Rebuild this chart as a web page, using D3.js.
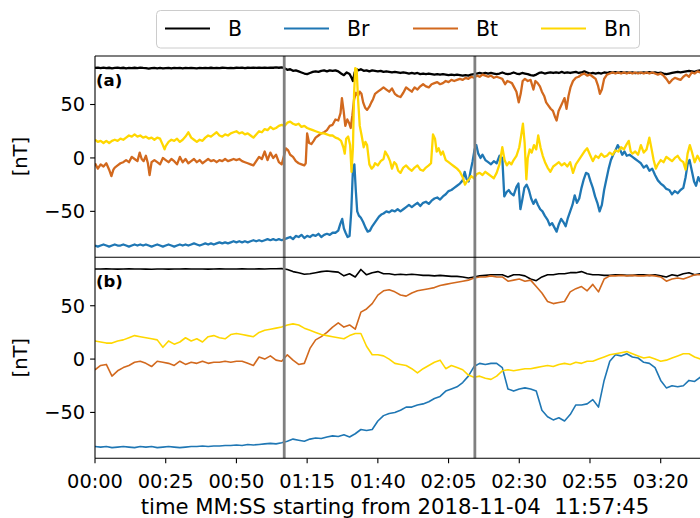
<!DOCTYPE html>
<html><head><meta charset="utf-8">
<script src="https://cdn.jsdelivr.net/npm/d3@7"></script>
<style>body{margin:0;background:#fff} svg{display:block} text{font-family:"DejaVu Sans",sans-serif}</style>
</head><body><svg id="c" width="700" height="518"></svg>
<script>
const seriesNames = ["B","Br","Bt","Bn"];
const seriesColors = ["#000000","#1f77b4","#d2691e","#ffd700"];
const xTickValues = [0,25,50,75,100,125,150,175,200];
const xTickLabels = ["00:00","00:25","00:50","01:15","01:40","02:05","02:30","02:55","03:20"];
const yTickValues = [-50,0,50];
const eventTimes = [66.9,134.3];
const panelLabels = ["(a)","(b)"];
const xLabel = "time MM:SS starting from 2018-11-04  11:57:45";
const yLabel = "[nT]";

// Panel (a): high resolution, flat [time, value] pairs
const aB = [0,84.2,1,84.6,2,84.1,3,84.5,4,84.0,5,84.4,6,83.9,7,84.3,8,84.6,9,84.1,10,84.4,11,83.9,12,84.3,13,84.0,14,84.4,15,84.1,16,84.5,17,84.2,18,84.0,19,83.6,20,84.1,21,84.3,22,83.9,23,84.2,24,83.8,25,84.1,26,84.3,27,83.8,28,84.2,29,84.0,30,84.3,31,83.9,32,84.2,33,84.0,34,84.3,35,84.1,36,83.9,37,84.2,38,84.0,39,84.3,40,84.1,41,84.4,42,84.0,43,84.3,44,84.1,45,84.4,46,84.2,47,84.0,48,84.3,49,84.1,50,84.4,51,84.2,52,84.5,53,84.1,54,84.4,55,84.2,56,84.5,57,84.3,58,84.6,59,84.2,60,84.5,61,84.3,62,84.6,63,84.4,64,84.7,65,84.4,66,84.8,
67,84,68,82.5,69,83,70,81.5,71,82,72,81,73,80,74,79,75,78.5,76,79.5,77,80.5,78,81,79,80.5,80,81.5,81,82,82,81,83,82,84,81.5,85,82,86,81,87,79,88,77.5,89,80,90,78.5,90.7,75,91.2,72,91.8,80,92.5,83,93.2,82,94,83,95,81.5,96,82,97,81,98,82,99,81.5,100,81,101,81.5,102,80.5,103,81,104,80.5,105,80,106,80.5,107,80,108,79.5,109,80,110,79.5,111,79,112,79.5,113,79,114,79.5,115,78.5,116,79,117,78.5,118,79,119,78.5,120,78,121,78.5,122,78,123,78.5,124,78,125,77.5,126,78,127,77.5,128,78,129,77.5,130,77,131,77.5,132,77,133,78,134,78.5,135,79,136,79.5,137,79,138,79.5,139,79,140,79.5,141,79,142,78.5,143,79,144,80,145,79,146,78.5,147,79,148,80,149,79,150,78.5,151,79.5,152,79,153,78.5,154,77.5,155,77,156,78,157,79.5,158,80,159,79,160,79.5,161,80,162,79.5,163,80,164,79.5,165,80.5,166,79.5,167,80,168,79.5,169,80,170,80.5,171,79.5,172,80,173,81,174,80,175,79,176,79.5,177,79,178,79.5,179,79,180,80,181,79.5,182,80.3,183,79.8,184,80.4,185,79.7,186,80.2,187,79.6,188,80.1,189,79.5,190,80,191,79.4,192,79.9,193,79.5,194,80.1,195,79.6,196,80.2,197,79.7,198,80.1,199,79.4,200,79.8,201,79,202,78.5,203,79,204,79.5,205,80,206,80.5,207,80,208,80.5,209,81,210,81.5,211,81,212,80.5,213,81.5,214,82,215,81.5,216,82];

const aBr = [0,-82,1,-83,2,-82,3,-81,4,-82,5,-83,6,-82,7,-81,8,-82,9,-82,10,-81,11,-82,12,-83,13,-82,14,-81,15,-82,16,-81,17,-82,18,-81,19,-82,20,-83,21,-82,22,-81,23,-82,24,-83,25,-82,26,-81,27,-82,28,-83,29,-82,30,-81,31,-82,32,-81,33,-82,34,-81,35,-80,36,-81,37,-82,38,-81,39,-80,40,-81,41,-80,42,-81,43,-80,44,-79,45,-80,46,-79,47,-80,48,-79,49,-78,50,-79,51,-78,52,-79,53,-78,54,-79,55,-78,56,-77,57,-78,58,-77,59,-78,60,-77,61,-76,62,-77,63,-76,64,-77,65,-76,66,-77,67,-76,68,-75,69,-74,70,-76,71,-73,72,-74,73,-72,74,-75,75,-73,76,-74,77,-72,78,-73,79,-71,80,-74,81,-72,82,-71,83,-72,84,-70,85,-70,86,-68,86.7,-62,87.4,-57,88,-66,88.6,-70,89.3,-74,90,-73,90.6,-50,91.2,-10,91.7,-6,92.2,-30,92.7,-50,93.3,-54,94,-56,94.8,-60,95.6,-65,96.4,-69,97.2,-68,98,-64,98.8,-61,99.6,-58,100.4,-55,101.2,-53,102,-52,103,-50,104,-51,105,-49,106,-50,107,-48,108,-50,109,-48,110,-46,111,-44,112,-46,113,-44,114,-42,115,-45,116,-42,117,-41,118,-43,119,-40,120,-38,121,-37,122,-39,123,-36,124,-34,125,-31,126,-30,127,-28,128,-26,129,-24,130,-21,130.7,-13,131.4,-20,132.1,-22,132.8,-12,133.5,-3,134.2,8,134.8,12,135.5,4,136.3,0,137,3,138,-2,139,-4,140,-6,141,-3,142,-5,143,2,144,0,144.7,-36,145.5,-32,146.3,-30,147,-33,148,-35,149,-27,149.7,-24,150.4,-48,151,-40,151.8,-28,152.6,-25,153.4,-30,154.2,-38,155,-43,155.8,-39,156.6,-44,157.4,-48,158.2,-50,159,-54,160,-58,160.8,-63,161.6,-61,162.4,-65,163.2,-69,164,-62,164.8,-57,165.6,-60,166.4,-64,167.2,-56,168,-50,168.8,-44,169.6,-35,170.4,-42,171.2,-38,172,-28,172.8,-20,173.6,-14,174.4,-15,175.2,-22,176,-28,176.8,-36,177.6,-42,178.4,-50,179.2,-44,180,-30,180.8,-20,181.6,-10,182.4,-2,183.2,3,184,7,184.8,12,185.6,8,186.4,3,187.2,6,188,2,189,3,190,1,191,-1,192,-3,193,-5,194,-9,195,-7,196,-12,197,-10,198,-16,199,-21,200,-24,201,-26,202,-29,203,-30,204,-34,205,-31,206,-33,207,-30,208,-28,208.8,-18,209.5,-6,210.2,-2,211,-12,211.8,-22,212.5,-26,213.3,-18,214,-22,215,-20,216,-19];

const aBt = [0,-5,1,-10,2,-6,3,-8,4,-5,5,-11,5.8,-17,6.5,-11,7,-9,8,-7,9,-5,10,-4,11,-2,12,-4,13,1,14,-1,15,-3,15.8,5,16.5,-1,17.2,-3,18,2,18.7,-5,19.3,-16,20,-4,21,-2,22,-4,23,-6,24,0,25,-2,26,-4,27,-1,28,-3,29,-6,30,1,31,-4,32,-1,33,-5,34,-3,35,-1,36,-4,37,-2,38,-5,39,-3,40,-1,41,-3,42,-2,43,-4,44,-2,45,-3,46,-1,47,-3,48,-2,49,-1,50,-2,51,-1,52,-3,53,-4,54,-5,55,-6,56,-7,57,-3,58,1,59,-1,60,6,61,-2,62,5,63,0,64,3,65,-4,66,-6,66.8,2,67.5,9,68.3,7,69,3,70,1,71,-3,72,-5,73,-6,74,-7,74.5,-5,75,23,75.7,14,76.5,13,77.3,16,78,19,79,21,80,23,81,24,82,26,83,30,84,31,85,36,86,35,86.8,42,87.3,56,87.9,44,88.5,30,89.2,36,89.8,33,90.4,28,91,40,91.6,55,92.3,61,93,58,93.6,62,94.2,60,94.8,52,95.5,47,96.2,45,97,48,97.7,52,98.3,55,99,60,100,62,101,64,102,66,103,64,104,62,105,65,106,60,107,58,108,57,109,61,110,66,111,64,112,62,113,66,114,64,115,67,116,69,117,67,118,66,119,69,120,70,121,71,122,69,123,70,124,72,125,71,126,73,127,72,128,73,129,74,130,73,131,75,132,74,133,76,134,75,135,77,136,76,137,78,138,77,139,76,140,77,141,75,142,76,143,75,144,74,145,69,145.8,72,146.6,71,147.4,70,148.2,66,149,62,149.8,52,150.5,60,151.2,72,152,74,153,72,154,73,155,64,155.7,72,156.5,70,157.3,67,158,62,158.8,58,159.5,52,160.3,49,161.1,46,161.9,44,162.7,38,163.2,35,163.9,44,164.6,48,165.3,52,166,56,166.7,46,167.4,58,168.1,66,169,72,170,75,171,76,172,78,173,79,174,77,175,78,176,76,177,74,177.8,68,178.5,60,179.2,64,180,74,181,78,182,79,183,80,184,79,185,80,186,79,187,80,188,79,189,80,190,79,191,80,192,79,193,80,194,79,195,80,196,79,197,80,198,79,199,78,200,79,201,77,202,74,203,70,204,73,205,75,206,74,207,73,208,76,209,78,210,76,211,80,212,79,213,81,214,80,215,80,216,81];

const aBn = [0,17,1,15,2,16,3,14,4,16,5,14,6,16,7,17,8,16,9,18,10,17,11,19,12,21,13,20,14,22,15,20,16,21,17,19,18,20,19,18,20,19,21,17,22,19,23,18,24,12,24.6,8,25,11,26,15,27,17,28,16,29,18,30,15,31,17,32,20,33,24,34,19,35,17,36,15,37,17,38,16,39,19,40,21,41,20,42,22,43,24,44,21,45,20,46,22,47,21,48,23,49,24,50,25,51,23,52,24,53,22,54,23,55,21,56,19,57,22,58,25,59,24,60,27,61,26,62,29,63,27,64,28,65,30,66,31,67,30,68,33,69,34,70,32,71,31,72,32,73,29,74,30,75,28,76,27,77,26,78,25,79,24,80,23,81,23,82,22,83,21,84,21,85,19,86,18,87,16,87.8,10,88.3,4,88.8,18,89.5,20,90.2,12,90.7,-13,91.2,10,91.6,60,92,84,92.5,83,93,55,93.6,30,94.2,22,95,10,95.6,15,96.2,12,97,-6,97.8,-10,98.5,-8,99,-5,100,-7,101,-3,102,-1,102.6,6,103.5,2,104.3,-3,105,-10,105.8,-4,106.5,-6,107.2,-12,108,-14,109,-9,110,-7,111,-10,112,-12,113,-9,114,-7,115,-11,116,-12,117,-9,118,-7,118.8,-5,119.5,22,120.2,18,120.8,6,121.5,9,122.3,3,123,6,124,-2,125,-4,126,-6,127,-8,128,-10,129,-13,130,-18,130.8,-25,131.5,-22,132.3,-20,133,-17,134,-19,135,-15,136,-14,137,-16,138,-13,139,-15,140,-17,141,-19,142,-14,143,-6,144,10,144.8,-2,145.6,-7,146.4,-4,147.2,-6,148,-2,149,2,150,10,150.6,20,151.3,32,151.9,14,152.5,-20,153,0,153.7,8,154.4,5,155.2,12,156,8,156.7,21,157.5,10,158.3,2,159.1,-4,160,-9,161,-13,162,-8,163,-6,164,-4,165,-7,166,-5,167,-8,168,-4,169,-14,170,-6,171,-2,172,2,173,6,174,9,175,3,176,-3,177,2,178,0,179,4,180,1,181,2,182,5,183,3,184,7,185,6,186,10,187,8,188,13,188.7,16,189.4,6,190,4,191,6,192,3,193,12,194,5,195,8,196,19,196.8,8,197.5,-2,198.3,-10,199,-6,200,-2,201,-4,202,1,203,-1,204,-3,205,0,206,2,207,-2,208,-4,208.8,-11,209.5,4,210.3,12,211,6,212,-4,213,2,214,-3,215,1,216,-2];

// Panel (b): smoothed, one value every 2 s starting at 0
const bTimes = d3.range(0, 217, 2);
const bB = [84.5,84.4,84.6,84.5,84.3,84.5,84.6,84.4,84.5,84.3,
 84.2,84.4,84.5,84.3,84.4,84.5,84.6,84.4,84.5,84.5,
 84.3,84.4,84.6,84.5,84.4,84.5,84.6,84.5,84.4,84.6,
 84.5,84.7,84.6,84.8,84,82,81,79.5,80,81,
 82,82.5,82,81.5,78,80,77,84,79,81,
 82,80,80,79,79.5,79,79.5,79,78.5,78.5,
 78,78.5,78,77.5,77.5,77,76,77,78,78.5,
 79,79,79,77,79,79,78,75,73.5,77,
 79,79,80,80,81,81,82,80,79,79,
 78.5,78.5,79,79,78.5,78.5,79,79,78.5,79,
 78,77,79,78,80,81,79,80,80];
const bBr = [-82,-82.5,-82,-83,-82.5,-82,-82.5,-83,-82,-82.5,
 -82,-83,-82.5,-82,-82.5,-83,-82.5,-82,-82,-81.5,
 -82,-81.5,-81.5,-81,-81,-80.5,-81,-80,-80.5,-80,
 -79.5,-79,-79.5,-78.5,-77,-75,-76,-77,-75,-74,
 -74.5,-73,-72,-72.5,-71,-73,-70,-66,-67,-66,
 -58,-53,-51,-50,-48,-45,-45,-43,-42,-40,
 -37,-35,-30,-28,-26,-22,-16,-7,-4,-5,
 -4,-4,-8,-28,-30,-28,-27,-28,-30,-48,
 -54,-57,-55,-58,-52,-43,-43,-42,-38,-45,
 -20,-2,4,3,5,2,1,-3,-4,-8,
 -20,-27,-25,-26,-25,-20,-21,-17,-16];
const bBt = [-10,-6,-5,-16,-11,-8,-6,-3,-2,-4,
 -7,-2,-3,-4,-6,-2,-5,-3,-4,-2,
 -4,-3,-3,-2,-3,-2,-2,-4,-6,2,
 0,3,-1,-2,4,-1,-5,-4,10,18,
 21,25,30,34,30,32,28,44,47,52,
 60,64,65,63,60,59,62,64,65,66,
 67,69,70,71,72,73,74,76,77,77,
 78,77,77,73,74,75,73,74,68,62,
 54,52,53,54,63,66,68,64,70,63,
 75,78,78,78.5,78,78.5,78,78,78.5,78,
 77,73,75,76,75,77,79,79,79];
const bBn = [17,16,15,15,17,18,20,22,21,20,
 19,18,11,17,14,16,20,17,19,16,
 21,22,20,19,23,24,23,22,21,25,
 27,28,29,30,32,33,32,29,27,25,
 23,22,21,20,19,22,24,24,12,4,
 4,3,0,-4,-5,-6,-9,-13,-9,-6,
 -3,-1,-9,-6,-8,-10,-15,-17,-16,-18,
 -19,-16,-11,-10,-11,-10,-9,-9,-8,-7,
 -6,-7,-5,-4,-5,-3,-4,-2,-2,0,
 2,4,5,6,7,5,3,1,2,0,
 -2,-1,1,3,5,5,2,0,-1];

const svg = d3.select("#c");
const W = 700;
const left = 95;
const x = d3.scaleLinear().domain([0, 200]).range([left, 660.7]);
const yDom = [-93, 95.4];
const panels = [
  {top: 56, bottom: 257.3, series: [aB, aBr, aBt, aBn].map(a => { const o=[]; for (let i=0;i<a.length;i+=2) o.push([a[i], a[i+1]]); return o; }), sw: 2.3},
  {top: 257.3, bottom: 458.3, series: [bB, bBr, bBt, bBn].map(v => bTimes.map((t,i) => [t, v[i]])), sw: 1.6}
];
const FS = 19.4;

panels.forEach((p, pi) => {
  const y = d3.scaleLinear().domain(yDom).range([p.bottom, p.top]);
  const cid = "clip" + pi;
  svg.append("clipPath").attr("id", cid).append("rect")
    .attr("x", left).attr("y", p.top).attr("width", W - left).attr("height", p.bottom - p.top);
  const g = svg.append("g").attr("clip-path", `url(#${cid})`);
  const line = d3.line().x(d => x(d[0])).y(d => y(d[1]));
  p.series.forEach((s, si) => {
    g.append("path").datum(s).attr("d", line).attr("fill", "none")
      .attr("stroke", seriesColors[si]).attr("stroke-width", p.sw)
      .attr("stroke-linejoin", "round");
  });
  const ya = svg.append("g");
  yTickValues.forEach(v => {
    ya.append("line").attr("x1", left - 4.9).attr("x2", left).attr("y1", y(v)).attr("y2", y(v))
      .attr("stroke", "#000").attr("stroke-width", 1.1);
    ya.append("text").attr("x", left - 9.8).attr("y", y(v)).attr("dy", "0.35em")
      .attr("text-anchor", "end").attr("font-size", FS).attr("fill", "#000")
      .text(d3.format("d")(v).replace("-", "\u2212"));
  });
  svg.append("text").attr("transform", `translate(27,${(p.top + p.bottom) / 2}) rotate(-90)`)
    .attr("text-anchor", "middle").attr("font-size", FS).text(yLabel);
  svg.append("text").attr("x", 96).attr("y", p.top + 30).attr("font-size", 16.5)
    .attr("font-weight", "bold").text(panelLabels[pi]);
});

eventTimes.forEach(t => {
  svg.append("line").attr("x1", x(t)).attr("x2", x(t)).attr("y1", 56).attr("y2", 458.3)
    .attr("stroke", "#808080").attr("stroke-width", 2.8);
});

const sp = svg.append("g").attr("stroke", "#000").attr("stroke-width", 1.1);
sp.append("line").attr("x1", left).attr("x2", W).attr("y1", 56).attr("y2", 56);
sp.append("line").attr("x1", left).attr("x2", W).attr("y1", 257.3).attr("y2", 257.3);
sp.append("line").attr("x1", left).attr("x2", W).attr("y1", 458.3).attr("y2", 458.3);
sp.append("line").attr("x1", left).attr("x2", left).attr("y1", 56).attr("y2", 458.3);

const xa = svg.append("g");
xTickValues.forEach((v, i) => {
  xa.append("line").attr("x1", x(v)).attr("x2", x(v)).attr("y1", 458.3).attr("y2", 463.2)
    .attr("stroke", "#000").attr("stroke-width", 1.1);
  xa.append("text").attr("x", x(v)).attr("y", 488).attr("text-anchor", "middle")
    .attr("font-size", FS).text(xTickLabels[i]);
});
svg.append("text").attr("x", 395).attr("y", 514).attr("text-anchor", "middle")
  .attr("font-size", 21.2).attr("xml:space", "preserve").style("white-space", "pre").text(xLabel);

const lg = svg.append("g");
lg.append("rect").attr("x", 156.5).attr("y", 10.5).attr("width", 483).attr("height", 37.5)
  .attr("rx", 4).attr("fill", "#fff").attr("fill-opacity", 0.8).attr("stroke", "#cccccc");
const legX = [165, 284, 413, 541];
seriesNames.forEach((n, i) => {
  lg.append("line").attr("x1", legX[i]).attr("x2", legX[i] + 45).attr("y1", 28.5).attr("y2", 28.5)
    .attr("stroke", seriesColors[i]).attr("stroke-width", 2);
  lg.append("text").attr("x", legX[i] + 63).attr("y", 29).attr("dy", "0.35em")
    .attr("font-size", 20.5).text(n);
});
</script></body></html>
